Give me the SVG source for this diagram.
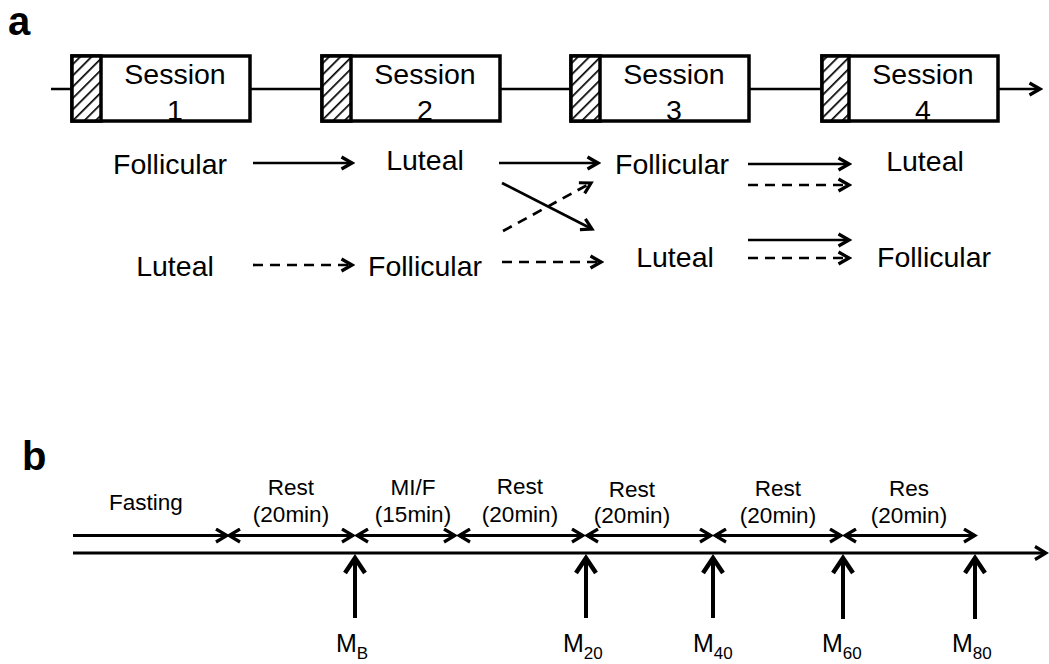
<svg xmlns="http://www.w3.org/2000/svg" width="1049" height="664" viewBox="0 0 1049 664">
  <style>
    text { font-family: "Liberation Sans", Arial, sans-serif; fill: #000; }
    .panel { font-weight: bold; font-size: 40px; }
    .sess { font-size: 28.5px; text-anchor: middle; }
    .phase { font-size: 28.5px; text-anchor: middle; }
    .step { font-size: 22.5px; text-anchor: middle; }
    .mlab { font-size: 25px; }
    .sub { font-size: 17px; }
    .box { fill: #fff; stroke: #000; stroke-width: 3.5; }
    .hatch { fill: url(#hatch); stroke: #000; stroke-width: 3.5; }
    .ln { fill: none; stroke: #000; stroke-width: 2.7; }
    .dash { stroke-dasharray: 10 7; }
    .axis { fill: none; stroke: #000; stroke-width: 3; }
    .mark { fill: none; stroke: #000; stroke-width: 4; }
  </style>
  <defs>
    <pattern id="hatch" patternUnits="userSpaceOnUse" width="8" height="8" patternTransform="rotate(45)">
      <rect width="8" height="8" fill="#fff"/>
      <line x1="0" y1="0" x2="0" y2="8" stroke="#000" stroke-width="3.4"/>
    </pattern>
    <!-- open chevron for the session and phase arrows -->
    <marker id="head" markerUnits="userSpaceOnUse" viewBox="0 0 16 16" refX="13" refY="8" markerWidth="16" markerHeight="16" orient="auto-start-reverse">
      <path d="M2.5,2 L13,8 L2.5,14" fill="none" stroke="#000" stroke-width="3.2"/>
    </marker>
    <!-- open chevron for the protocol timeline -->
    <marker id="headB" markerUnits="userSpaceOnUse" viewBox="0 0 16 16" refX="13" refY="8" markerWidth="16" markerHeight="16" orient="auto-start-reverse">
      <path d="M2,1.5 L13,8 L2,14.5" fill="none" stroke="#000" stroke-width="3.2"/>
    </marker>
    <!-- bold chevron for the sampling points -->
    <marker id="headM" markerUnits="userSpaceOnUse" viewBox="0 0 24 24" refX="19" refY="12" markerWidth="24" markerHeight="24" orient="auto">
      <path d="M4,2 L19,12 L4,22" fill="none" stroke="#000" stroke-width="4.5"/>
    </marker>
  </defs>

  <!-- panel a -->
  <text class="panel" x="8" y="35">a</text>

  <g id="connectors-a">
    <line class="ln" x1="51" y1="89" x2="1040" y2="89" marker-end="url(#head)"/>
    <line class="ln" x1="253" y1="163" x2="352" y2="163" marker-end="url(#head)"/>
    <line class="ln dash" x1="253" y1="265" x2="352" y2="265" marker-end="url(#head)"/>
    <line class="ln" x1="499" y1="163" x2="598" y2="163" marker-end="url(#head)"/>
    <line class="ln" x1="502" y1="183" x2="592" y2="229" marker-end="url(#head)"/>
    <line class="ln dash" x1="503" y1="231" x2="591" y2="183" marker-end="url(#head)"/>
    <line class="ln dash" x1="502" y1="262" x2="601" y2="262" marker-end="url(#head)"/>
    <line class="ln" x1="748" y1="164" x2="849" y2="164" marker-end="url(#head)"/>
    <line class="ln dash" x1="748" y1="185" x2="849" y2="185" marker-end="url(#head)"/>
    <line class="ln" x1="748" y1="240" x2="849" y2="240" marker-end="url(#head)"/>
    <line class="ln dash" x1="748" y1="258" x2="849" y2="258" marker-end="url(#head)"/>
  </g>

  <g id="session-1">
    <rect class="box" x="72" y="56" width="178" height="65"/>
    <rect class="hatch" x="72" y="56" width="29" height="65"/>
    <text class="sess" x="175" y="84">Session</text>
    <text class="sess" x="175" y="119.5">1</text>
  </g>
  <g id="session-2">
    <rect class="box" x="322" y="56" width="178" height="65"/>
    <rect class="hatch" x="322" y="56" width="29" height="65"/>
    <text class="sess" x="425" y="84">Session</text>
    <text class="sess" x="425" y="119.5">2</text>
  </g>
  <g id="session-3">
    <rect class="box" x="571" y="56" width="178" height="65"/>
    <rect class="hatch" x="571" y="56" width="29" height="65"/>
    <text class="sess" x="674" y="84">Session</text>
    <text class="sess" x="674" y="119.5">3</text>
  </g>
  <g id="session-4">
    <rect class="box" x="822" y="56" width="176" height="65"/>
    <rect class="hatch" x="822" y="56" width="27" height="65"/>
    <text class="sess" x="923" y="84">Session</text>
    <text class="sess" x="923" y="119.5">4</text>
  </g>

  <g id="phases-a">
    <text class="phase" x="170" y="174">Follicular</text>
    <text class="phase" x="425" y="170">Luteal</text>
    <text class="phase" x="672" y="174">Follicular</text>
    <text class="phase" x="925" y="171">Luteal</text>
    <text class="phase" x="175" y="276">Luteal</text>
    <text class="phase" x="425" y="276">Follicular</text>
    <text class="phase" x="675" y="267">Luteal</text>
    <text class="phase" x="934" y="267">Follicular</text>
  </g>

  <!-- panel b -->
  <text class="panel" x="22" y="470">b</text>

  <g id="connectors-b">
    <line class="axis" x1="73" y1="553" x2="1046" y2="553" marker-end="url(#headB)"/>
    <line class="axis" x1="73" y1="535.5" x2="227" y2="535.5" marker-end="url(#headB)"/>
    <line class="axis" x1="229" y1="535.5" x2="353" y2="535.5" marker-start="url(#headB)" marker-end="url(#headB)"/>
    <line class="axis" x1="357" y1="535.5" x2="455" y2="535.5" marker-start="url(#headB)" marker-end="url(#headB)"/>
    <line class="axis" x1="459" y1="535.5" x2="583" y2="535.5" marker-start="url(#headB)" marker-end="url(#headB)"/>
    <line class="axis" x1="587" y1="535.5" x2="711" y2="535.5" marker-start="url(#headB)" marker-end="url(#headB)"/>
    <line class="axis" x1="715" y1="535.5" x2="841" y2="535.5" marker-start="url(#headB)" marker-end="url(#headB)"/>
    <line class="axis" x1="845" y1="535.5" x2="975" y2="535.5" marker-start="url(#headB)" marker-end="url(#headB)"/>
  </g>

  <g id="steps-b">
    <text class="step" x="146" y="510">Fasting</text>
    <text class="step" x="291" y="495">Rest</text>
    <text class="step" x="291" y="522">(20min)</text>
    <text class="step" x="413" y="495">MI/F</text>
    <text class="step" x="413" y="522">(15min)</text>
    <text class="step" x="520" y="494">Rest</text>
    <text class="step" x="520" y="522">(20min)</text>
    <text class="step" x="632" y="497">Rest</text>
    <text class="step" x="632" y="523">(20min)</text>
    <text class="step" x="778" y="496">Rest</text>
    <text class="step" x="778" y="523">(20min)</text>
    <text class="step" x="909" y="496">Res</text>
    <text class="step" x="909" y="523">(20min)</text>
  </g>

  <g id="sample-MB">
    <line class="mark" x1="355" y1="618" x2="355" y2="558" marker-end="url(#headM)"/>
    <text class="mlab" x="336" y="652">M<tspan class="sub" dy="7">B</tspan></text>
  </g>
  <g id="sample-M20">
    <line class="mark" x1="586" y1="618" x2="586" y2="558" marker-end="url(#headM)"/>
    <text class="mlab" x="563" y="652">M<tspan class="sub" dy="7">20</tspan></text>
  </g>
  <g id="sample-M40">
    <line class="mark" x1="713" y1="618" x2="713" y2="558" marker-end="url(#headM)"/>
    <text class="mlab" x="693" y="652">M<tspan class="sub" dy="7">40</tspan></text>
  </g>
  <g id="sample-M60">
    <line class="mark" x1="843" y1="619" x2="843" y2="558" marker-end="url(#headM)"/>
    <text class="mlab" x="822" y="652">M<tspan class="sub" dy="7">60</tspan></text>
  </g>
  <g id="sample-M80">
    <line class="mark" x1="975" y1="619" x2="975" y2="558" marker-end="url(#headM)"/>
    <text class="mlab" x="952" y="652">M<tspan class="sub" dy="7">80</tspan></text>
  </g>
</svg>
